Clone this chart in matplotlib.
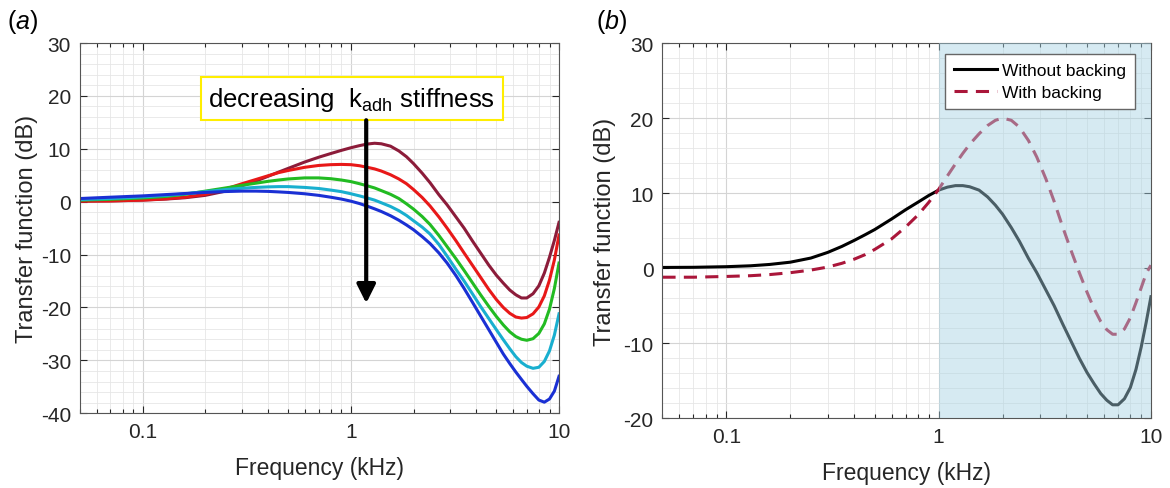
import matplotlib
matplotlib.use("Agg")
import matplotlib.pyplot as plt
from matplotlib.ticker import FixedLocator, MultipleLocator, NullFormatter, FixedFormatter

plt.rcParams['font.family'] = ['Liberation Sans', 'DejaVu Sans']
plt.rcParams['mathtext.fontset'] = 'custom'
plt.rcParams['mathtext.rm'] = 'Liberation Sans'
plt.rcParams['mathtext.it'] = 'Liberation Sans:italic'
plt.rcParams['axes.unicode_minus'] = False

# frequency points (kHz), same for both panels
freq = [0.05, 0.07, 0.1, 0.13, 0.16, 0.2, 0.25, 0.3, 0.35, 0.4, 0.45, 0.5, 0.6, 0.7, 0.8, 0.9,
        1.0, 1.1, 1.2, 1.3, 1.4, 1.55, 1.7, 1.85, 2.0, 2.2, 2.4, 2.65, 2.9, 3.2, 3.5, 3.85,
        4.2, 4.6, 5.0, 5.4, 5.8, 6.2, 6.6, 7.0, 7.5, 8.0, 8.5, 9.0, 9.5, 10.0]

# ---- panel (a): decreasing adhesive stiffness (top to bottom) ----
tf_k1 = [0.1, 0.15, 0.3, 0.5, 0.75, 1.2, 2.0, 3.0, 3.9, 4.8, 5.6, 6.3, 7.5, 8.4, 9.1, 9.7,
         10.2, 10.6, 10.9, 11.05, 10.95, 10.5, 9.6, 8.5, 7.2, 5.4, 3.6, 1.3, -0.6, -2.9, -5.0, -7.5,
         -9.7, -12.0, -13.9, -15.4, -16.7, -17.6, -18.2, -18.2, -17.4, -15.9, -13.5, -10.5, -7.3, -3.9]
tf_k2 = [0.1, 0.15, 0.3, 0.55, 0.85, 1.4, 2.4, 3.4, 4.2, 4.9, 5.5, 5.9, 6.5, 6.85, 7.0, 7.05,
         7.0, 6.8, 6.5, 6.2, 5.8, 5.1, 4.3, 3.4, 2.3, 0.8, -0.8, -2.9, -5.0, -7.4, -9.7, -12.1,
         -14.3, -16.6, -18.5, -20.0, -21.1, -21.8, -22.0, -21.9, -21.2, -19.9, -17.8, -14.8, -11.0, -6.3]
tf_k3 = [0.3, 0.45, 0.7, 1.0, 1.4, 2.0, 2.6, 3.1, 3.5, 3.85, 4.1, 4.3, 4.5, 4.5, 4.35, 4.1,
         3.8, 3.4, 3.0, 2.6, 2.1, 1.4, 0.6, -0.4, -1.4, -2.8, -4.3, -6.4, -8.5, -10.8, -13.0, -15.4,
         -17.6, -19.8, -21.7, -23.3, -24.6, -25.5, -26.0, -26.2, -25.9, -24.9, -23.1, -20.3, -16.4, -11.6]
tf_k4 = [0.4, 0.6, 0.9, 1.2, 1.5, 1.9, 2.3, 2.55, 2.7, 2.8, 2.85, 2.85, 2.7, 2.5, 2.2, 1.9,
         1.5, 1.1, 0.7, 0.3, -0.2, -0.9, -1.7, -2.6, -3.6, -4.8, -6.1, -8.1, -10.3, -12.8, -15.0, -17.5,
         -19.8, -22.1, -24.2, -26.1, -27.8, -29.3, -30.4, -31.1, -31.5, -31.3, -30.2, -28.2, -25.2, -21.2]
tf_k5 = [0.6, 0.85, 1.1, 1.35, 1.55, 1.75, 1.92, 2.0, 2.0, 1.95, 1.85, 1.75, 1.5, 1.2, 0.85, 0.5,
         0.1, -0.35, -0.85, -1.35, -1.85, -2.65, -3.5, -4.4, -5.3, -6.6, -7.9, -9.7, -11.6, -14.0, -16.4, -19.1,
         -21.6, -24.2, -26.6, -28.8, -30.6, -32.2, -33.6, -34.9, -36.3, -37.5, -37.9, -37.3, -35.8, -33.0]
colors_a = ['#8c1c3a', '#e81818', '#22bb22', '#19afcf', '#1a30d4']

# ---- panel (b): with / without backing ----
tf_without = [0.1, 0.12, 0.2, 0.32, 0.5, 0.8, 1.35, 2.1, 2.9, 3.7, 4.45, 5.15, 6.55, 7.8, 8.8, 9.7,
              10.4, 10.8, 11.0, 11.0, 10.85, 10.4, 9.5, 8.4, 7.2, 5.4, 3.6, 1.3, -0.6, -2.9, -5.0, -7.5,
              -9.7, -12.0, -13.9, -15.4, -16.7, -17.6, -18.2, -18.2, -17.4, -15.9, -13.5, -10.5, -7.2, -3.8]
tf_with = [-1.2, -1.2, -1.1, -1.0, -0.85, -0.6, -0.25, 0.15, 0.65, 1.2, 1.8, 2.5, 3.9, 5.5, 7.1, 8.8,
           10.5, 12.3, 13.9, 15.3, 16.5, 17.9, 19.0, 19.7, 20.0, 19.7, 18.8, 17.0, 14.8, 11.9, 8.9, 5.4,
           2.4, -0.6, -3.2, -5.4, -7.1, -8.2, -8.8, -8.8, -8.1, -6.6, -4.6, -2.6, -0.7, 0.4]
shade_start = 1.0

x_ticks = [0.1, 1, 10]
x_ticklabels = ['0.1', '1', '10']


def style_axes(ax, ylo, yhi, ylabelpad):
    ax.set_xscale('log')
    ax.set_xlim(0.05, 10)
    ax.set_ylim(ylo, yhi)
    ax.xaxis.set_major_locator(FixedLocator(x_ticks))
    ax.xaxis.set_major_formatter(FixedFormatter(x_ticklabels))
    minors = [m * 10.0 ** e for e in (-2, -1, 0) for m in range(2, 10)]
    ax.xaxis.set_minor_locator(FixedLocator(minors))
    ax.xaxis.set_minor_formatter(NullFormatter())
    ax.yaxis.set_major_locator(MultipleLocator(10))
    ax.yaxis.set_minor_locator(MultipleLocator(2))
    ax.grid(True, which='major', color='#d4d4d4', lw=0.8)
    ax.grid(True, which='minor', color='#e6e6e6', lw=0.6)
    ax.set_axisbelow(True)
    ax.tick_params(which='both', direction='in', top=True, right=True,
                   labelsize=15, colors='#262626', width=0.8)
    ax.tick_params(which='major', length=5)
    ax.tick_params(axis='y', which='major', pad=6.5)
    ax.tick_params(axis='x', which='major', pad=6)
    ax.tick_params(axis='x', which='minor', length=3)
    ax.tick_params(axis='y', which='minor', length=0)
    for s in ax.spines.values():
        s.set_color('#555555')
        s.set_linewidth(0.8)
    ax.set_xlabel('Frequency (kHz)', fontsize=16.5, color='#262626', labelpad=11)
    ax.set_ylabel('Transfer function (dB)', fontsize=17, color='#262626', labelpad=ylabelpad)


fig = plt.figure(figsize=(11.7, 4.89), dpi=100)

ax1 = fig.add_axes([0.0684, 0.1528, 0.4094, 0.7572])
for y, c in zip([tf_k1, tf_k2, tf_k3, tf_k4, tf_k5], colors_a):
    ax1.plot(freq, y, color=c, lw=2.2)
style_axes(ax1, -40, 30, 2)
ax1.text(0.207, 19.5, r'decreasing  k$_{\mathrm{adh}}$ stiffness', fontsize=18.5, va='center', ha='left',
         bbox=dict(boxstyle='square,pad=0.28', fc='white', ec='#ffee00', lw=1.5), zorder=6)
ax1.annotate('', xy=(1.185, -19.2), xytext=(1.185, 15.4),
             arrowprops=dict(arrowstyle='-|>', lw=3, color='black', mutation_scale=28,
                             shrinkA=0, shrinkB=0), zorder=7)

ax2 = fig.add_axes([0.5662, 0.1425, 0.4175, 0.7675])
ax2.plot(freq, tf_without, color='black', lw=2.2, label='Without backing')
ax2.plot(freq, tf_with, color='#aa163a', lw=2.2, ls=(0, (4.3, 2.7)), label='With backing')
ax2.axvspan(shade_start, 10, color='#a6d2e3', alpha=0.45, lw=0, zorder=3)
style_axes(ax2, -20, 30, 5)
leg = ax2.legend(loc='upper right', bbox_to_anchor=(0.967, 0.971), borderaxespad=0,
                 fontsize=12.5, handlelength=2.5, frameon=True, fancybox=False, framealpha=1,
                 edgecolor='#666666', borderpad=0.5, labelspacing=0.4, handletextpad=0.3)
leg.get_frame().set_linewidth(1.0)
leg.set_zorder(8)

fig.text(0.0195, 0.955, r'($\mathit{a}$)', fontsize=18, ha='center', va='center')
fig.text(0.523, 0.955, r'($\mathit{b}$)', fontsize=18, ha='center', va='center')

fig.savefig('out.png', dpi=100)
